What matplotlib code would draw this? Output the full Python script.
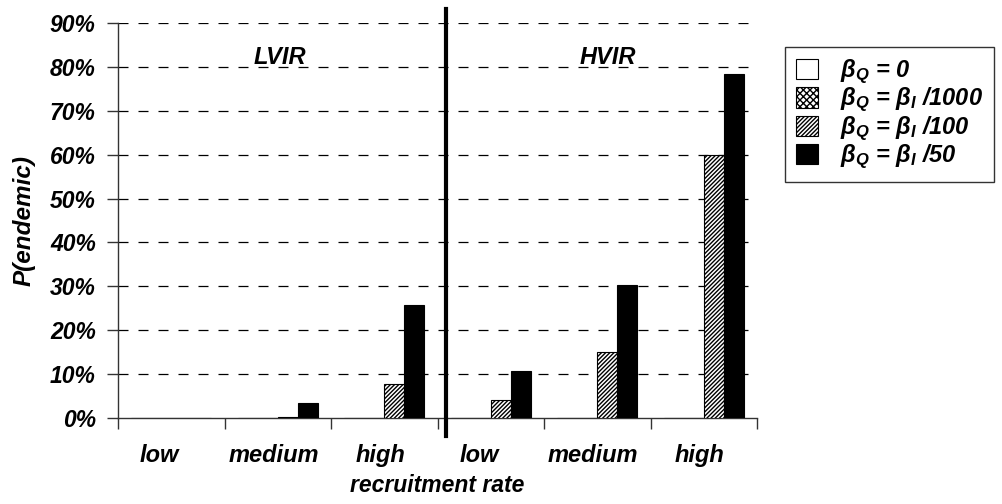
import numpy as np
import matplotlib
matplotlib.use("Agg")
import matplotlib.pyplot as plt
from matplotlib.ticker import PercentFormatter
from matplotlib.transforms import blended_transform_factory

plt.rcParams['font.family'] = ['Liberation Sans', 'DejaVu Sans']
plt.rcParams['font.weight'] = 'bold'
plt.rcParams['font.style'] = 'italic'
plt.rcParams['mathtext.fontset'] = 'custom'
plt.rcParams['mathtext.rm'] = 'Liberation Sans:bold:italic'
plt.rcParams['mathtext.it'] = 'Liberation Sans:bold:italic'
plt.rcParams['mathtext.bf'] = 'Liberation Sans:bold:italic'
plt.rcParams['hatch.linewidth'] = 1.0

# data
categories = ['low', 'medium', 'high', 'low', 'medium', 'high']
groups = ['LVIR', 'HVIR']
series_labels = [r'$\beta_Q$ = 0',
                 r'$\beta_Q$ = $\beta_I$ /1000',
                 r'$\beta_Q$ = $\beta_I$ /100',
                 r'$\beta_Q$ = $\beta_I$ /50']
beta_zero = [0, 0, 0, 0, 0, 0]
beta_1000 = [0, 0, 0, 0, 0, 0]
beta_100 = [0, 0.003, 0.078, 0.042, 0.150, 0.600]
beta_50 = [0, 0.034, 0.257, 0.107, 0.302, 0.784]
series = [beta_zero, beta_1000, beta_100, beta_50]

styles = [dict(facecolor='white', hatch=None),
          dict(facecolor='white', hatch='xxxxx'),
          dict(facecolor='white', hatch='////////'),
          dict(facecolor='black', hatch=None)]

fig = plt.figure(figsize=(10.02, 5.04), dpi=100)
ax = fig.add_axes([118/1002, 86/504, 639/1002, 395/504])

x = np.arange(len(categories))
w = 0.188
handles = []
for k, vals in enumerate(series):
    b = ax.bar(x + (k - 1.5) * w, vals, w, edgecolor='black', linewidth=0.8,
               label=series_labels[k], zorder=3, **styles[k])
    handles.append(b)

ax.set_xlim(-0.5, len(categories) - 0.5)
ax.set_ylim(0, 0.9)
ax.set_yticks(np.arange(0, 0.91, 0.1))
ax.yaxis.set_major_formatter(PercentFormatter(1.0, decimals=0))
ax.set_xticks(np.arange(-0.5, len(categories), 1.0))
ax.set_xticklabels([])
ax.tick_params(axis='both', direction='out', length=8, width=1, colors='#333333',
               labelcolor='black', labelsize=16.5)
ax.tick_params(axis='y', pad=8)
for lab in ax.get_yticklabels():
    lab.set_fontweight('bold')
    lab.set_fontstyle('italic')

for yv in np.arange(0.1, 0.91, 0.1):
    ax.axhline(yv, color='black', linewidth=0.9, linestyle=(0, (8, 8)), zorder=1)

for s in ['top', 'right']:
    ax.spines[s].set_visible(False)
for s in ['left', 'bottom']:
    ax.spines[s].set_color('#333333')
    ax.spines[s].set_linewidth(1)

# divider between groups
trans = blended_transform_factory(ax.transData, ax.transAxes)
ax.plot([2.58, 2.58], [1.035, -0.045], transform=trans,
        color='black', linewidth=3, clip_on=False, zorder=5)

# category labels
for i, c in enumerate(categories):
    shift = -0.11 if c == 'low' else -0.04
    ax.text(i + shift, -0.094, c, transform=trans, ha='center', va='center',
            fontsize=17, fontweight='bold', fontstyle='italic')

ax.text(1.02, 0.822, groups[0], ha='center', va='center', fontsize=17,
        fontweight='bold', fontstyle='italic')
ax.text(4.1, 0.822, groups[1], ha='center', va='center', fontsize=17,
        fontweight='bold', fontstyle='italic')

ax.set_xlabel('recruitment rate', fontsize=16.5, fontweight='bold', fontstyle='italic', labelpad=29)
ax.set_ylabel('P(endemic)', fontsize=17.5, fontweight='bold', fontstyle='italic', labelpad=10)

leg = fig.legend(handles=handles, loc='upper left', bbox_to_anchor=(785/1002, 1 - 47/504),
                 borderaxespad=0, frameon=True, fancybox=False, edgecolor='black',
                 prop=dict(size=17, weight='bold', style='italic'),
                 handlelength=0.95, handleheight=0.95, handletextpad=0.95,
                 labelspacing=0.0, borderpad=0.45)
leg.get_frame().set_linewidth(1)

fig.savefig('out.png', dpi=100)
